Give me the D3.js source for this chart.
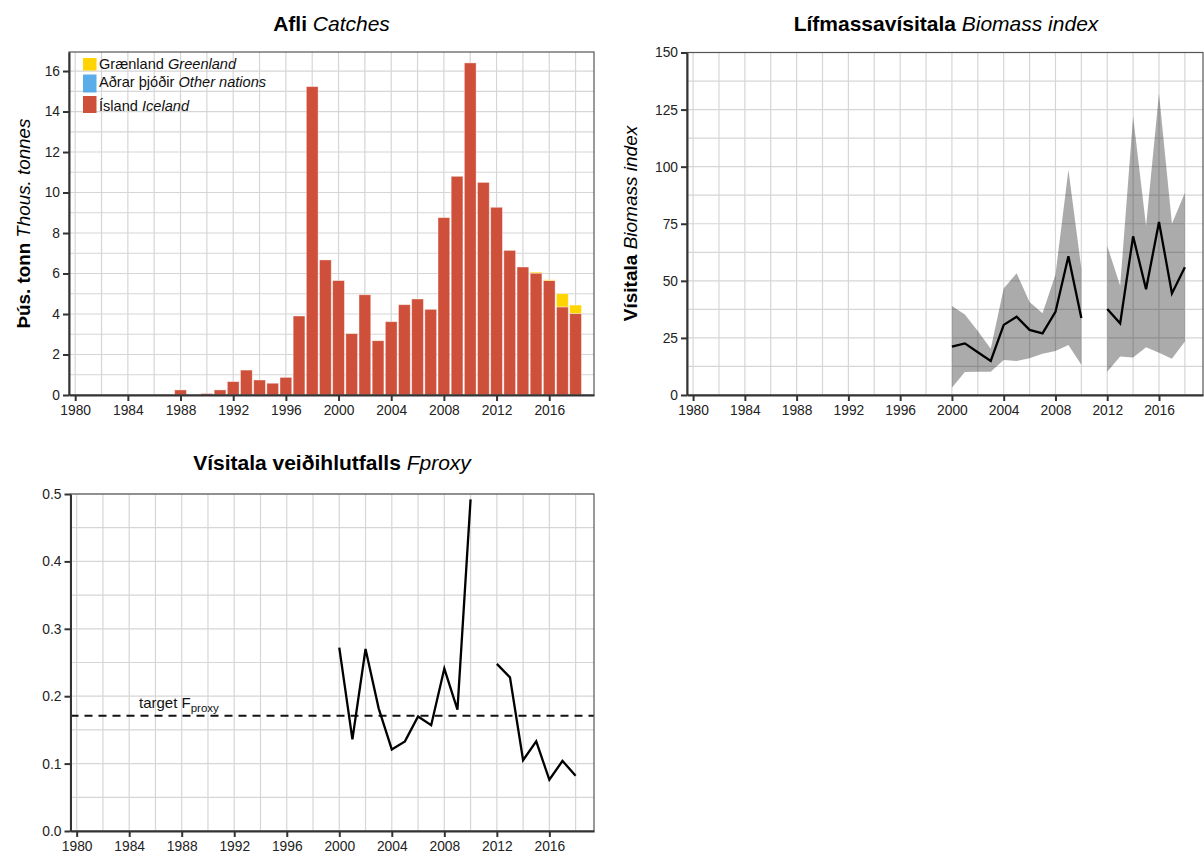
<!DOCTYPE html>
<html><head><meta charset="utf-8">
<script src="https://cdn.jsdelivr.net/npm/d3@7"></script>
<style>
body{margin:0;background:#fff}
text{font-family:"Liberation Sans",Arial,Helvetica,sans-serif}
</style>
</head><body>
<svg id="chart" width="1204" height="854"></svg>
<script>
// ---------- DATA ----------
const catchYears   = [1988,1989,1990,1991,1992,1993,1994,1995,1996,1997,1998,1999,2000,2001,2002,2003,2004,2005,2006,2007,2008,2009,2010,2011,2012,2013,2014,2015,2016,2017,2018];
const iceland      = [0.25,0,0.07,0.25,0.66,1.23,0.74,0.58,0.87,3.9,15.23,6.67,5.65,3.03,4.95,2.68,3.62,4.46,4.74,4.23,8.76,10.8,16.4,10.5,9.27,7.14,6.32,6.02,5.65,4.35,4.03];
const otherNations = [0,0,0,0,0,0,0,0,0,0,0,0,0,0,0,0,0,0,0,0,0,0,0,0,0,0,0,0,0,0,0];
const greenland    = [0,0,0,0,0,0,0,0,0,0,0,0,0,0,0,0,0,0,0,0,0,0,0,0,0,0,0,0.05,0.04,0.65,0.41];

const biomassYears = [2000,2001,2002,2003,2004,2005,2006,2007,2008,2009,2010,2011,2012,2013,2014,2015,2016,2017,2018];
const biomassIndex = [21.2,22.6,18.7,14.9,30.7,34.3,28.5,27.0,36.4,60.8,33.7,null,37.7,31.4,69.5,46.3,75.8,44.5,55.9];
const biomassLower = [3.2,10.1,10.2,10.2,15.3,14.9,16.1,18.1,19.3,21.9,13.2,null,10.2,16.9,16.4,20.9,18.5,15.9,23.4];
const biomassUpper = [39.0,35.3,28.0,20.3,46.6,53.3,40.7,35.8,52.7,98.6,55.4,null,65.3,47.8,122.0,74.0,132.0,75.0,88.6];

const fproxyYears  = [2000,2001,2002,2003,2004,2005,2006,2007,2008,2009,2010,2011,2012,2013,2014,2015,2016,2017,2018];
const fproxy       = [0.272,0.136,0.270,0.182,0.121,0.133,0.170,0.157,0.241,0.180,0.492,null,0.248,0.228,0.105,0.133,0.076,0.104,0.082];
const targetFproxy = 0.171;

const xTicks       = [1980,1984,1988,1992,1996,2000,2004,2008,2012,2016];
const catchTicks   = [0,2,4,6,8,10,12,14,16];
const biomassTicks = [0,25,50,75,100,125,150];
const fproxyTicks  = [0,0.1,0.2,0.3,0.4,0.5];

const legendItems = [
  {bold:"Grænland", it:"Greenland", key:"greenland"},
  {bold:"Aðrar þjóðir", it:"Other nations", key:"other"},
  {bold:"Ísland", it:"Iceland", key:"iceland"}
];

// ---------- STYLE ----------
const colors = {iceland:"#cf503a", other:"#5aade8", greenland:"#ffd400"};
const gridColor = "#d6d6d6";
const axisColor = "#333";
const xDomain = [1979.53, 2019.4];

const svg = d3.select("#chart");

function panel(o){
  const g = svg.append("g");
  const x = d3.scaleLinear().domain(xDomain).range([o.left, o.right]);
  const y = d3.scaleLinear().domain(o.yDomain).range([o.bottom, o.top]);
  const grid = g.append("g");
  grid.selectAll("line.v").data(d3.range(1980, 2019, 2)).join("line")
    .attr("x1", d=>x(d)).attr("x2", d=>x(d)).attr("y1", o.top).attr("y2", o.bottom)
    .attr("stroke", gridColor).attr("stroke-width", 1.2);
  grid.selectAll("line.h").data(o.yGrid).join("line")
    .attr("x1", o.left).attr("x2", o.right).attr("y1", d=>y(d)).attr("y2", d=>y(d))
    .attr("stroke", gridColor).attr("stroke-width", 1.2);
  const marks = g.append("g");
  const deco = g.append("g");
  function finish(){
    deco.append("rect").attr("x", o.left).attr("y", o.top)
      .attr("width", o.right-o.left).attr("height", o.bottom-o.top)
      .attr("fill","none").attr("stroke","#555").attr("stroke-width",1.2);
    const ax = deco.append("g").attr("transform",`translate(0,${o.bottom})`)
      .call(d3.axisBottom(x).tickValues(xTicks).tickFormat(d3.format("d")).tickSize(6).tickPadding(4).tickSizeOuter(0));
    const ay = deco.append("g").attr("transform",`translate(${o.left},0)`)
      .call(d3.axisLeft(y).tickValues(o.yTicks).tickFormat(o.fmt).tickSize(6).tickPadding(3).tickSizeOuter(0));
    [ax, ay].forEach(a=>{
      a.select(".domain").attr("stroke", axisColor).attr("stroke-width", 2);
      a.selectAll(".tick line").attr("stroke", axisColor).attr("stroke-width", 2);
      a.selectAll(".tick text").attr("fill", "#222").style("font-size","13.8px")
        .style("font-family",'"Liberation Sans",Arial,sans-serif');
    });
  }
  return {x, y, marks, finish};
}

function richText(parent, x, y, parts, size, anchor, transform){
  const t = parent.append("text").attr("x", x).attr("y", y)
    .attr("text-anchor", anchor || "middle").style("font-size", size+"px").attr("fill","#000");
  if (transform) t.attr("transform", transform);
  parts.forEach((p,i)=>{
    t.append("tspan").text((i>0?" ":"")+p.t)
      .style("font-weight", p.b ? "bold":"normal")
      .style("font-style", p.i ? "italic":"normal");
  });
  return t;
}

// ---------- PANEL A : Catches ----------
const A = panel({left:69, right:594, top:52, bottom:395, yDomain:[0,16.94], yTicks:catchTicks,
  yGrid:d3.range(0,17,1), fmt:d3.format("d")});
const catchRows = catchYears.map((yr,i)=>({year:yr, iceland:iceland[i], other:otherNations[i], greenland:greenland[i]}));
const stack = d3.stack().keys(["iceland","other","greenland"])(catchRows);
const bw = (A.x(1981)-A.x(1980))*0.89;
A.marks.selectAll("g.s").data(stack).join("g").attr("fill", d=>colors[d.key])
  .selectAll("rect").data(d=>d.filter(s=>s[1]-s[0]>0)).join("rect")
  .attr("x", d=>A.x(d.data.year)-bw/2).attr("width", bw)
  .attr("y", d=>A.y(d[1])).attr("height", d=>A.y(d[0])-A.y(d[1]))
  .attr("stroke","#fff").attr("stroke-opacity",0.45).attr("stroke-width",0.8);
A.finish();
// legend
const legBoxes = [{y:58, h:12.5},{y:74.5, h:18},{y:96, h:17}];
const legBase = [69, 86.5, 111];
const leg = svg.append("g");
legendItems.forEach((it,i)=>{
  leg.append("rect").attr("x",83).attr("y",legBoxes[i].y).attr("width",13.5).attr("height",legBoxes[i].h)
    .attr("fill",colors[it.key]);
  const t = leg.append("text").attr("x",99).attr("y",legBase[i]).style("font-size","14.6px").attr("fill","#111");
  t.append("tspan").text(it.bold+" ");
  t.append("tspan").text(it.it).style("font-style","italic");
});
richText(svg, 331.5, 31, [{t:"Afli",b:1},{t:"Catches",i:1}], 21);
richText(svg, 0, 0, [{t:"Þús. tonn",b:1},{t:"Thous. tonnes",i:1}], 18.8, "middle", "translate(30,223.5) rotate(-90)");

// ---------- PANEL B : Biomass index ----------
const B = panel({left:687, right:1203, top:52.5, bottom:395, yDomain:[0,150], yTicks:biomassTicks,
  yGrid:d3.range(0,151,12.5), fmt:d3.format("d")});
const bRows = biomassYears.map((yr,i)=>({year:yr, v:biomassIndex[i], lo:biomassLower[i], hi:biomassUpper[i]}));
B.marks.append("path").datum(bRows)
  .attr("d", d3.area().defined(d=>d.lo!=null).x(d=>B.x(d.year)).y0(d=>B.y(d.lo)).y1(d=>B.y(d.hi)))
  .attr("fill","#000").attr("fill-opacity",0.33);
B.marks.append("path").datum(bRows)
  .attr("d", d3.line().defined(d=>d.v!=null).x(d=>B.x(d.year)).y(d=>B.y(d.v)))
  .attr("fill","none").attr("stroke","#000").attr("stroke-width",2.3).attr("stroke-linejoin","miter");
B.finish();
richText(svg, 946, 31, [{t:"Lífmassavísitala",b:1},{t:"Biomass index",i:1}], 21);
richText(svg, 0, 0, [{t:"Vísitala",b:1},{t:"Biomass index",i:1}], 19, "middle", "translate(637,223.5) rotate(-90)");

// ---------- PANEL C : Fproxy ----------
const C = panel({left:70.5, right:594, top:494, bottom:831, yDomain:[0,0.5], yTicks:fproxyTicks,
  yGrid:d3.range(0,0.501,0.05), fmt:d3.format(".1f")});
C.marks.append("line").attr("x1",C.x(xDomain[0])).attr("x2",C.x(xDomain[1]))
  .attr("y1",C.y(targetFproxy)).attr("y2",C.y(targetFproxy))
  .attr("stroke","#111").attr("stroke-width",2.2).attr("stroke-dasharray","8,6");
const fRows = fproxyYears.map((yr,i)=>({year:yr, v:fproxy[i]}));
C.marks.append("path").datum(fRows)
  .attr("d", d3.line().defined(d=>d.v!=null).x(d=>C.x(d.year)).y(d=>C.y(d.v)))
  .attr("fill","none").attr("stroke","#000").attr("stroke-width",2.3);
C.finish();
const tl = svg.append("text").attr("x",139).attr("y",708).style("font-size","15px").attr("fill","#111");
tl.append("tspan").text("target F");
tl.append("tspan").text("proxy").style("font-size","11.5px").attr("dy",3.5);
richText(svg, 332, 469.5, [{t:"Vísitala veiðihlutfalls",b:1},{t:"Fproxy",i:1}], 21);
</script>
</body></html>
